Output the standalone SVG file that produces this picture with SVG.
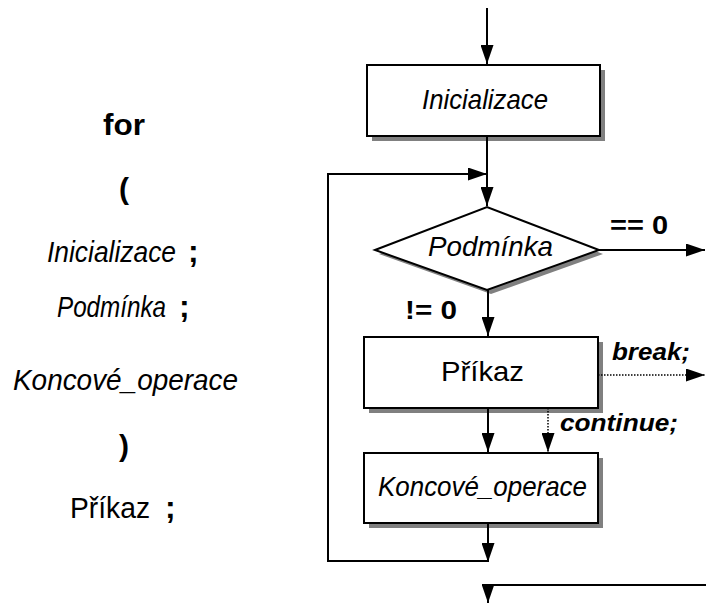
<svg xmlns="http://www.w3.org/2000/svg" width="706" height="604" viewBox="0 0 706 604">
<style>
.bg{fill:#fff}
.box{fill:#fff;stroke:#000;stroke-width:2}
.shadow{fill:#808080;stroke:none}
.ln{stroke:#000;stroke-width:2;fill:none}
.dot{stroke:#000;stroke-width:1.5;fill:none;stroke-dasharray:1.5 1.5}
text{font-family:"Liberation Sans",Arial,sans-serif;fill:#000}
.it{font-style:italic;font-size:28px}
.rg{font-size:28px}
.bd{font-weight:bold;font-size:25px}
.bi{font-weight:bold;font-style:italic;font-size:23px}
.lt{font-size:30px}
.semi{font-weight:bold;font-size:32px}
</style>
<defs>
<marker id="arr" markerUnits="userSpaceOnUse" markerWidth="20" markerHeight="13" refX="19" refY="6.5" orient="auto">
<path d="M0,0 L19,6.5 L0,13 Z" fill="#000"/>
</marker>
</defs>
<rect class="bg" x="0" y="0" width="706" height="604"/>

<g id="code">
<text class="lt" x="103" y="135" font-weight="bold" textLength="42" lengthAdjust="spacingAndGlyphs">for</text>
<text class="lt" x="119" y="199" font-weight="bold" font-size="31">(</text>
<text class="lt" x="47" y="262" font-style="italic" textLength="129" lengthAdjust="spacingAndGlyphs">Inicializace</text>
<text class="semi" x="188" y="262">;</text>
<text class="lt" x="57" y="317" font-style="italic" textLength="109" lengthAdjust="spacingAndGlyphs">Podmínka</text>
<text class="semi" x="179" y="317">;</text>
<text class="lt" x="13" y="390" font-style="italic" textLength="225" lengthAdjust="spacingAndGlyphs">Koncové_operace</text>
<text class="lt" x="119" y="456" font-weight="bold" font-size="31">)</text>
<text class="lt" x="70" y="518" textLength="80" lengthAdjust="spacingAndGlyphs">Příkaz</text>
<text class="semi" x="165" y="518">;</text>
</g>

<g id="inicializace">
<rect class="shadow" x="372" y="70" width="233" height="71"/>
<rect class="box" x="367" y="65" width="233" height="71"/>
<text class="it" x="422" y="109" textLength="126" lengthAdjust="spacingAndGlyphs">Inicializace</text>
</g>

<g id="podminka">
<polygon class="shadow" points="379,254 491,211 603,254 491,294"/>
<polygon class="box" points="375,250 487,207 599,250 487,290"/>
<text class="it" x="428" y="256" textLength="125" lengthAdjust="spacingAndGlyphs">Podmínka</text>
</g>

<g id="prikaz">
<rect class="shadow" x="369" y="342" width="234" height="71"/>
<rect class="box" x="364" y="337" width="234" height="71"/>
<text class="rg" x="441" y="381" textLength="83" lengthAdjust="spacingAndGlyphs">Příkaz</text>
</g>

<g id="koncove">
<rect class="shadow" x="369" y="458" width="234" height="70"/>
<rect class="box" x="364" y="453" width="234" height="70"/>
<text class="it" x="378" y="496" textLength="209" lengthAdjust="spacingAndGlyphs">Koncové_operace</text>
</g>

<g id="connectors">
<path class="ln" d="M487,8 L487,64" marker-end="url(#arr)"/>
<path class="ln" d="M487,136 L487,206" marker-end="url(#arr)"/>
<path class="ln" d="M599,250 L705,250" marker-end="url(#arr)"/>
<path class="ln" d="M488,290 L488,336" marker-end="url(#arr)"/>
<path class="ln" d="M488,408 L488,452" marker-end="url(#arr)"/>
<path class="dot" d="M548,408 L548,452" marker-end="url(#arr)"/>
<path class="dot" d="M598,375 L705,375" marker-end="url(#arr)"/>
<path class="ln" d="M488,523 L488,562" marker-end="url(#arr)"/>
<path class="ln" d="M488,561 L328,561 L328,174 L487,174" marker-end="url(#arr)"/>
<path class="ln" d="M706,585 L488,585 L488,603" marker-end="url(#arr)"/>
<text class="bd" x="610" y="234" textLength="58" lengthAdjust="spacingAndGlyphs">== 0</text>
<text class="bd" x="405" y="319" textLength="52" lengthAdjust="spacingAndGlyphs">!= 0</text>
<text class="bi" x="612" y="360" textLength="78" lengthAdjust="spacingAndGlyphs">break;</text>
<text class="bi" x="560" y="431" textLength="118" lengthAdjust="spacingAndGlyphs">continue;</text>
</g>
</svg>
